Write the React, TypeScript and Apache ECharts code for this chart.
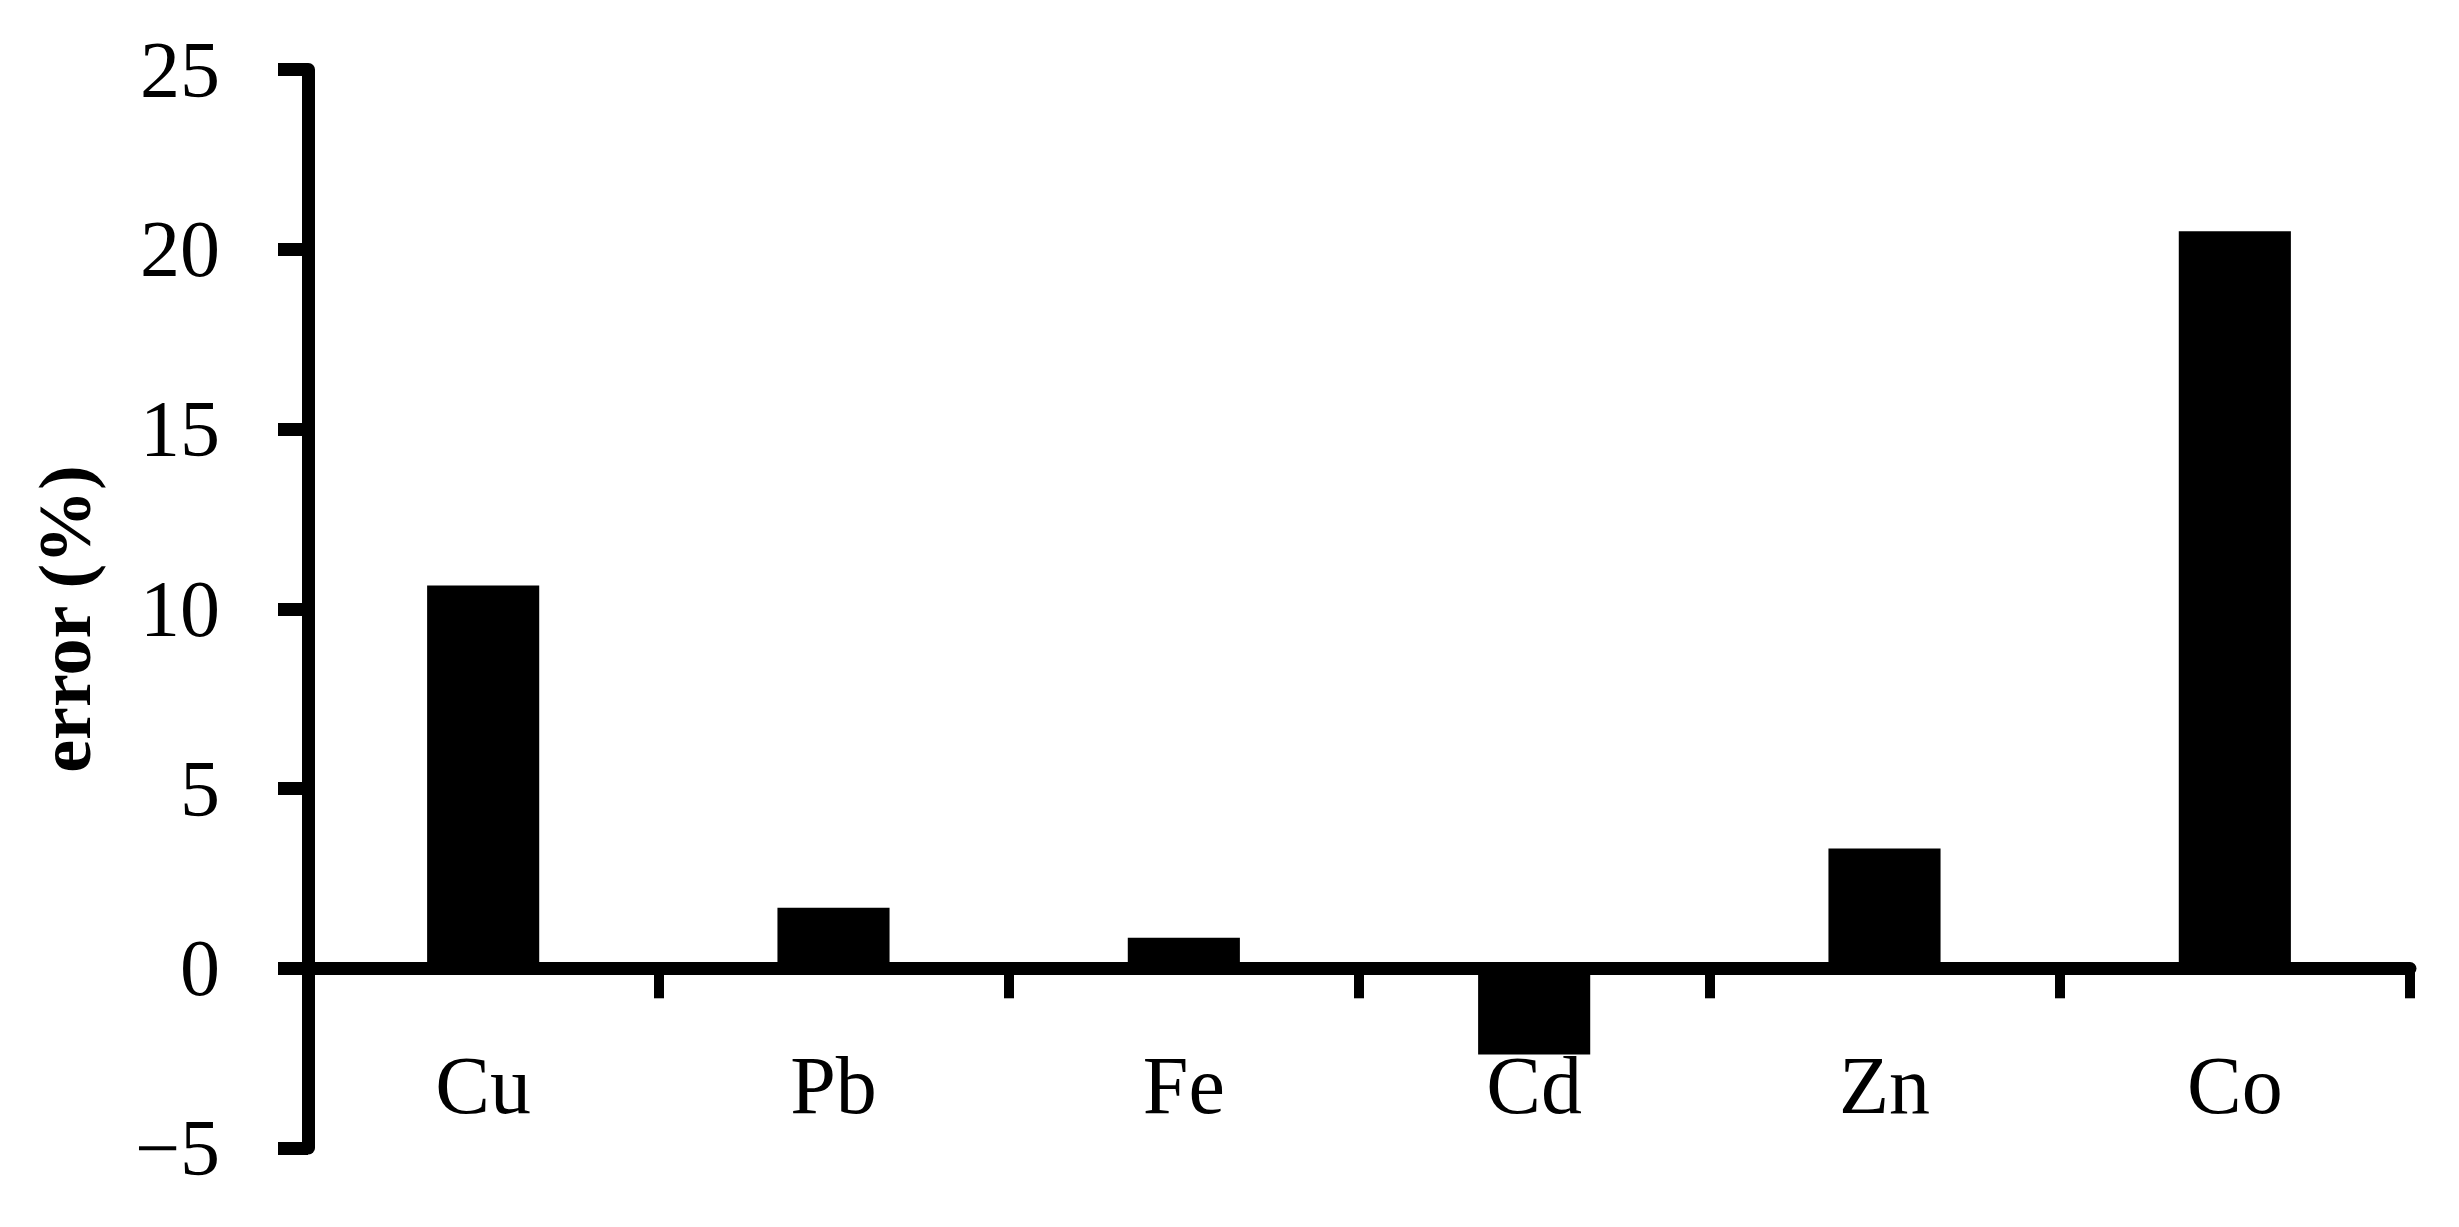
import React, { useEffect, useRef } from "react";
import * as echarts from "echarts";

const categories = ["Cu", "Pb", "Fe", "Cd", "Zn", "Co"];
const errorValues = [10.65, 1.68, 0.85, -2.4, 3.33, 20.5];
const yTicks = { min: -5, max: 25, interval: 5 };
const yAxisTitle = "error (%)";

const FONT = '"Palatino Linotype", "Book Antiqua", Palatino, "Liberation Serif", serif';

export default function App() {
  const ref = useRef<HTMLDivElement>(null);
  useEffect(() => {
    document.body.style.margin = "0";
    const chart = echarts.init(ref.current!, null, { renderer: "svg" });
    chart.setOption({
      animation: false,
      backgroundColor: "#ffffff",
      grid: {
        left: 308,
        right: 49,
        top: 69.5,
        bottom: 79,
        containLabel: false,
        outerBoundsMode: "none",
      },
      graphic: [
        {
          type: "text",
          x: 65,
          y: 619,
          rotation: Math.PI / 2,
          style: {
            text: yAxisTitle,
            fill: "#000",
            font: `bold 74px ${FONT}`,
            align: "center",
            verticalAlign: "middle",
          },
        },
      ],
      xAxis: {
        type: "category",
        data: categories,
        position: "bottom",
        offset: -179.7,
        axisLine: { onZero: false, lineStyle: { color: "#000", width: 13 } },
        axisTick: { show: true, length: 30, lineStyle: { color: "#000", width: 10 } },
        axisLabel: { color: "#000", fontFamily: FONT, fontSize: 82, margin: 76 },
        splitLine: { show: false },
      },
      yAxis: {
        type: "value",
        min: yTicks.min,
        max: yTicks.max,
        interval: yTicks.interval,
        axisLine: { show: true, lineStyle: { color: "#000", width: 13 } },
        axisTick: { show: true, length: 30, lineStyle: { color: "#000", width: 13 } },
        axisLabel: {
          color: "#000",
          fontFamily: FONT,
          fontSize: 80,
          margin: 88,
          formatter: (v: number) => (v < 0 ? "\u2212" + Math.abs(v) : String(v)),
        },
        splitLine: { show: false },
      },
      series: [
        {
          type: "bar",
          data: errorValues,
          barWidth: "32%",
          itemStyle: { color: "#000" },
        },
      ],
    });
    return () => chart.dispose();
  }, []);
  return (
    <div
      ref={ref}
      style={{ position: "absolute", left: 0, top: 0, width: 2459, height: 1227 }}
    />
  );
}
